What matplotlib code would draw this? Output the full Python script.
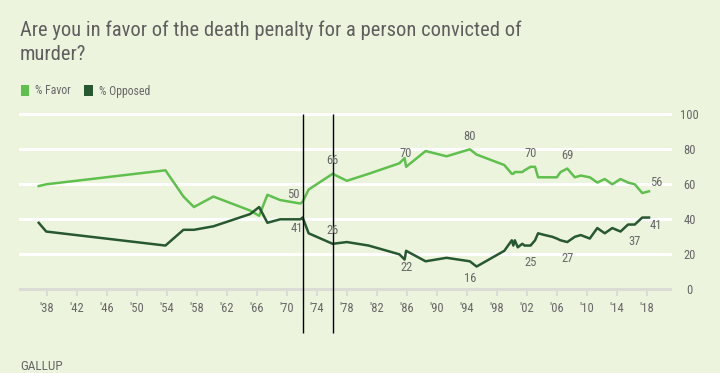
import matplotlib
matplotlib.use("Agg")
import matplotlib.pyplot as plt
from matplotlib import font_manager
from matplotlib.patches import Patch

# ─── Data ────────────────────────────────────────────────────
years = [1936.9, 1937.9, 1953.8, 1956.2, 1957.6, 1960.2, 1965.1, 1966.3,
         1967.4, 1969.1, 1971.8, 1972.1, 1972.9, 1976.1, 1978.0, 1980.9,
         1985.0, 1985.7, 1985.9, 1988.5, 1991.3, 1994.4, 1995.3, 1999.0,
         2000.0, 2000.2, 2000.4, 2000.8, 2001.4, 2001.7, 2002.5, 2003.1,
         2003.5, 2004.4, 2005.4, 2006.0, 2006.5, 2007.4, 2008.4, 2009.2,
         2010.4, 2011.4, 2012.4, 2013.4, 2014.5, 2015.5, 2016.4, 2017.4,
         2018.3]
favor = [59, 60, 68, 53, 47, 53, 45, 42, 54, 51, 49, 50, 57, 66, 62, 66,
         72, 75, 70, 79, 76, 80, 77, 71, 66, 66, 67, 67, 67, 68, 70, 70,
         64, 64, 64, 64, 67, 69, 64, 65, 64, 61, 63, 60, 63, 61, 60, 55, 56]
opposed = [38, 33, 25, 34, 34, 36, 43, 47, 38, 40, 40, 41, 32, 26, 27, 25,
           20, 17, 22, 16, 18, 16, 13, 22, 28, 25, 28, 24, 26, 25, 25, 28,
           32, 31, 30, 29, 28, 27, 30, 31, 29, 35, 32, 35, 33, 37, 37, 41, 41]

ruling_years = [1972.1, 1976.1]
tick_years = list(range(1938, 2019, 4))
tick_labels = ["'" + str(y)[2:] for y in tick_years]

# labelled points: (series, index, placement)
labels = [
    ("favor", 11, "left_up"), ("opposed", 11, "left_down"),
    ("favor", 13, "up"), ("opposed", 13, "up"),
    ("favor", 18, "up"), ("opposed", 18, "down"),
    ("favor", 21, "up"), ("opposed", 21, "down"),
    ("favor", 30, "up"), ("opposed", 30, "down"),
    ("favor", 37, "up"), ("opposed", 37, "down"),
    ("opposed", 46, "down"),
    ("favor", 48, "right_up"), ("opposed", 48, "right_down"),
]

_BG = "#edf4de"
_FAVOR = "#5fc04d"
_OPPOSED = "#27582f"
_TEXT = "#666666"

available = {f.name for f in font_manager.fontManager.ttflist}
FONT = next((f for f in ["Liberation Sans Narrow", "Roboto Condensed", "Roboto"]
             if f in available), "DejaVu Sans")
plt.rcParams["font.family"] = [FONT, "DejaVu Sans"]

fig = plt.figure(figsize=(7.2, 3.73), dpi=100)
fig.patch.set_facecolor(_BG)
ax = fig.add_axes([20 / 720, 1 - 289.3 / 373, 650 / 720, 175 / 373])
ax.set_facecolor(_BG)

ax.set_xlim(1934.4, 2021.1)
ax.set_ylim(0, 100)

for v in [20, 40, 60, 80, 100]:
    ax.axhline(v, color="white", linewidth=2.2, zorder=1, clip_on=False)

ax.plot(years, favor, color=_FAVOR, linewidth=1.8, zorder=3, clip_on=False)
ax.plot(years, opposed, color=_OPPOSED, linewidth=1.8, zorder=3, clip_on=False)

ax.vlines(ruling_years, -25, 100, color="black", linewidth=1.0, zorder=4,
          clip_on=False)

for sp in ["top", "left", "right"]:
    ax.spines[sp].set_visible(False)
ax.spines["bottom"].set_color("#dcdcd6")
ax.spines["bottom"].set_linewidth(2.2)

ax.set_xticks(tick_years)
ax.set_xticklabels(tick_labels)
ax.tick_params(axis="x", length=5, width=1.5, color="#dcdcd6",
               labelsize=9, labelcolor=_TEXT, pad=4)
ax.yaxis.tick_right()
ax.set_yticks([0, 20, 40, 60, 80, 100])
ax.tick_params(axis="y", length=0, labelsize=9, labelcolor=_TEXT, pad=14)
for lbl in ax.get_yticklabels():
    lbl.set_horizontalalignment("center")

# offsets in points from the data point to the label centre
offsets = {
    "up": (0, 9.3),
    "down": (0, -12.2),
    "left_up": (-6.7, 4.9),
    "left_down": (-4.5, -8.2),
    "right_up": (5.5, 6.2),
    "right_down": (5.3, -5.4),
}
series = {"favor": favor, "opposed": opposed}
for name, i, place in labels:
    dx, dy = offsets[place]
    val = series[name][i]
    ax.annotate(str(val), (years[i], val), xytext=(dx, dy),
                textcoords="offset points", ha="center", va="center",
                fontsize=9, color=_TEXT, zorder=5)

fig.text(20 / 720, 1 - 20 / 373,
         "Are you in favor of the death penalty for a person convicted of\nmurder?",
         fontsize=14.8, color="#5e5e5e", ha="left", va="top",
         linespacing=1.4)

handles = [Patch(facecolor=_FAVOR, edgecolor="none", label="% Favor"),
           Patch(facecolor=_OPPOSED, edgecolor="none", label="% Opposed")]
fig.legend(handles=handles, loc="center left",
           bbox_to_anchor=(10 / 720, 1 - 91 / 373), ncol=2, frameon=False,
           fontsize=8.5, labelcolor=_TEXT, handlelength=0.75, handleheight=1.1,
           handletextpad=0.5, columnspacing=1.1)

fig.text(20 / 720, 1 - 366 / 373, "GALLUP", fontsize=9.5, color=_TEXT,
         ha="left", va="center")

fig.savefig("out.png", dpi=100, facecolor=fig.get_facecolor())
